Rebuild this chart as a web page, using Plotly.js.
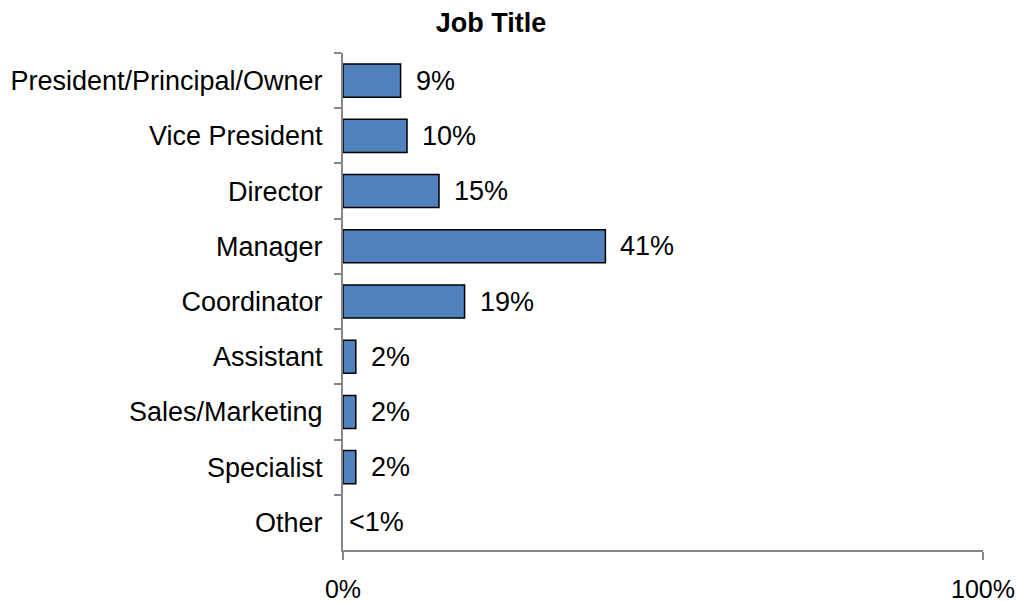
<!DOCTYPE html>
<html>
<head>
<meta charset="utf-8">
<script src="https://cdn.plot.ly/plotly-3.0.1.min.js"></script>
<style>html,body{margin:0;padding:0;background:#fff;}#chart{width:1021px;height:602px;}</style>
</head>
<body>
<div id="chart"></div>
<script>
const categories = ["President/Principal/Owner","Vice President","Director","Manager","Coordinator","Assistant","Sales/Marketing","Specialist","Other"];
const values = [9, 10, 15, 41, 19, 2, 2, 2, 0];
const valueLabels = ["9%","10%","15%","41%","19%","2%","2%","2%","<1%"];
const xTickVals = [0, 100];
const xTickText = ["0%", "100%"];

const font = "Liberation Sans, Arial, sans-serif";
const fs = 27;

const trace = {
  type: "bar",
  orientation: "h",
  y: categories,
  x: values,
  marker: {color: "#4F81BD", line: {color: "#000000", width: values.map(v => v > 0 ? 1.5 : 0)}},
  width: 0.6,
  hoverinfo: "skip"
};

const annotations = categories.map((c, i) => ({
  x: values[i], y: c, xref: "x", yref: "y",
  text: valueLabels[i], showarrow: false,
  xanchor: "left", xshift: values[i] > 0 ? 13 : 4,
  font: {family: font, size: fs, color: "#000"}
}));

const layout = {
  width: 1021, height: 602,
  margin: {l: 343, r: 38, t: 53, b: 52},
  paper_bgcolor: "#fff", plot_bgcolor: "#fff",
  showlegend: false,
  title: {text: "<b>Job Title</b>", x: 0.481, xref: "container", xanchor: "center", y: 0.963, yref: "container", yanchor: "middle", font: {family: font, size: fs, color: "#000"}},
  xaxis: {
    range: [0, 100], tickvals: xTickVals, ticktext: xTickText,
    showgrid: false, zeroline: false, showline: true, linecolor: "#868686", linewidth: 2,
    ticks: "outside", ticklen: 8, tickwidth: 2, tickcolor: "#868686",
    ticklabelstandoff: 8,
    tickfont: {family: font, size: 25, color: "#000"}, fixedrange: true
  },
  yaxis: {
    autorange: "reversed", type: "category",
    showgrid: false, zeroline: false, showline: true, linecolor: "#868686", linewidth: 2,
    ticks: "outside", ticklen: 7, tickwidth: 2, tickcolor: "#868686", tickson: "boundaries",
    ticklabelstandoff: 13,
    tickfont: {family: font, size: fs, color: "#000"}, fixedrange: true
  },
  annotations: annotations
};

Plotly.newPlot("chart", [trace], layout, {staticPlot: true, displayModeBar: false});
</script>
</body>
</html>
